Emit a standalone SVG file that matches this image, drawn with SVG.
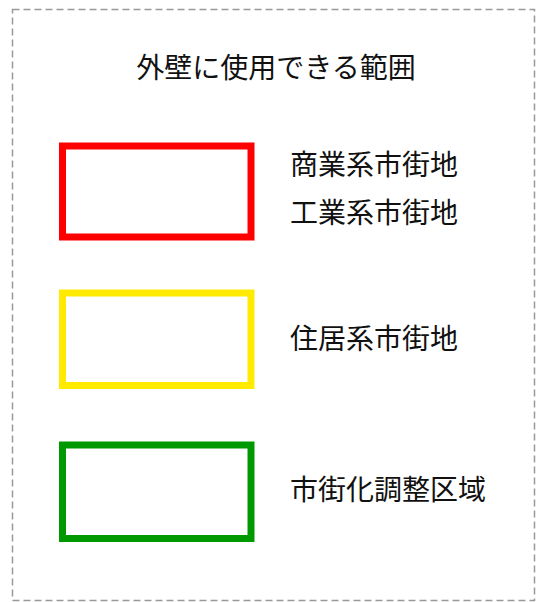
<svg xmlns="http://www.w3.org/2000/svg" width="536" height="602" viewBox="0 0 536 602">
<style>
.frame{fill:none;stroke:#999;stroke-width:1.5;stroke-dasharray:7 4}
.box{fill:#fff;stroke-width:7}
.t{font-family:"Noto Sans CJK JP","Liberation Sans",sans-serif;fill:#111}
.title{font-size:28px;text-anchor:middle}
.lbl{font-size:28px}
</style>
<rect class="frame" x="12.5" y="9.5" width="522" height="591"/>
<g id="title"><text class="t title" x="276" y="78">外壁に使用できる範囲</text></g>
<g id="commercial">
<rect class="box" x="62.5" y="146" width="188.5" height="91" stroke="#ff0000"/>
<text class="t lbl" x="290" y="175">商業系市街地</text>
<text class="t lbl" x="290" y="223">工業系市街地</text>
</g>
<g id="residential">
<rect class="box" x="62.5" y="293" width="188.5" height="92.5" stroke="#ffea00"/>
<text class="t lbl" x="290" y="349">住居系市街地</text>
</g>
<g id="urbanization-control">
<rect class="box" x="62.5" y="445" width="188.5" height="93.5" stroke="#009900"/>
<text class="t lbl" x="290" y="500">市街化調整区域</text>
</g>
<g id="connectors"/>
</svg>
